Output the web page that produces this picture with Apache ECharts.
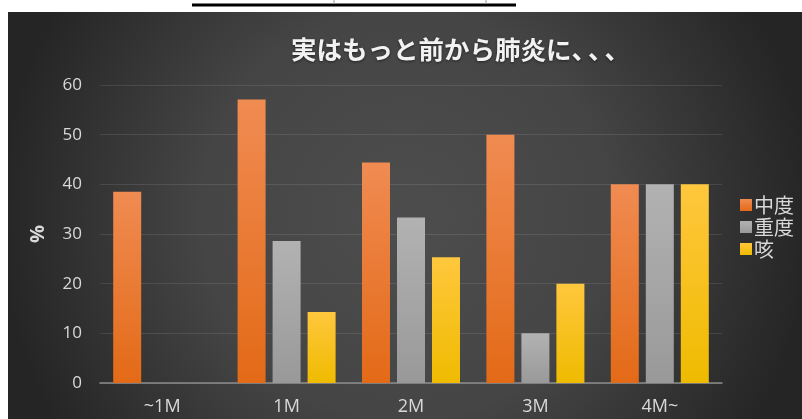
<!DOCTYPE html>
<html>
<head>
<meta charset="utf-8">
<script src="https://cdn.jsdelivr.net/npm/echarts@6/dist/echarts.min.js"></script>
<style>
html,body{margin:0;padding:0;background:#fff;}
#c{width:802px;height:419px;}
</style>
</head>
<body>
<div id="c"></div>
<script>
var categories = ['~1M', '1M', '2M', '3M', '4M~'];
var seriesNames = ['中度', '重度', '咳'];
var moderate = [38.5, 57.1, 44.4, 50, 40];
var severe = [0, 28.6, 33.3, 10, 40];
var cough = [0, 14.3, 25.3, 20, 40];
var yTicks = { min: 0, max: 60, interval: 10 };
var titleMain = '実はもっと前から肺炎に';
var titleTail = ['、', '、', '、'];

var FONT = "'Noto Sans CJK JP', 'Noto Sans', sans-serif";
var NUMFONT = "'Open Sans', 'Noto Sans', sans-serif";
function grad(top, bottom) {
  return new echarts.graphic.LinearGradient(0, 0, 0, 1, [
    { offset: 0, color: top }, { offset: 1, color: bottom }
  ]);
}
var titleStyleBase = {
  color: '#f2f2f2', fontSize: 25.5, fontWeight: 'bold', fontFamily: FONT,
  textShadowColor: 'rgba(0,0,0,0.5)', textShadowBlur: 3, textShadowOffsetY: 1
};
var titleText = titleMain + titleTail.map(function (c) { return '{p|' + c + '}'; }).join('');
var chart = echarts.init(document.getElementById('c'));
chart.setOption({
  animation: false,
  textStyle: { fontFamily: FONT },
  graphic: [
    {
      type: 'rect', z: -10, silent: true,
      shape: { x: 8, y: 12, width: 794, height: 407 },
      style: {
        fill: new echarts.graphic.RadialGradient(0.5, 0.5, 1.0, [
          { offset: 0, color: '#4d4d4d' },
          { offset: 0.5, color: '#454545' },
          { offset: 1, color: '#252525' }
        ])
      }
    },
    {
      type: 'line', z: 10, silent: true,
      shape: { x1: 192, y1: 5, x2: 516, y2: 5 },
      style: { stroke: '#000', lineWidth: 3 }
    },
    {
      type: 'line', z: 10, silent: true,
      shape: { x1: 334, y1: 0, x2: 334, y2: 4 },
      style: { stroke: '#999', lineWidth: 1 }
    },
    {
      type: 'line', z: 10, silent: true,
      shape: { x1: 486, y1: 0, x2: 486, y2: 4 },
      style: { stroke: '#999', lineWidth: 1 }
    }
  ],
  title: {
    text: titleText,
    left: 286, top: 32,
    textStyle: Object.assign({}, titleStyleBase, {
      rich: { p: Object.assign({}, titleStyleBase, { width: 16.5 }) }
    })
  },
  legend: {
    orient: 'vertical',
    left: 740, top: 195,
    itemWidth: 12, itemHeight: 12, itemGap: 2,
    icon: 'rect',
    padding: 0,
    textStyle: { color: '#d9d9d9', fontSize: 20, padding: [0, 0, 0, -3] },
    data: seriesNames
  },
  grid: { left: 100, right: 80, top: 85, bottom: 36 },
  xAxis: {
    type: 'category',
    data: categories,
    axisLine: { lineStyle: { color: '#8c8c8c', width: 1.5 } },
    axisTick: { show: false },
    axisLabel: { color: '#d9d9d9', fontSize: 18, margin: 15, fontFamily: NUMFONT }
  },
  yAxis: {
    type: 'value',
    min: yTicks.min, max: yTicks.max, interval: yTicks.interval,
    name: '%',
    nameLocation: 'middle',
    nameRotate: 90,
    nameGap: 52,
    nameTextStyle: { color: '#d9d9d9', fontSize: 20, fontWeight: 'bold', fontFamily: NUMFONT },
    axisLine: { show: false },
    axisTick: { show: false },
    axisLabel: { color: '#d9d9d9', fontSize: 17, margin: 18, fontFamily: NUMFONT },
    splitLine: { lineStyle: { color: 'rgba(255,255,255,0.1)', width: 1 } }
  },
  series: [
    {
      name: seriesNames[0], type: 'bar', data: moderate,
      barWidth: 28, barGap: '25%',
      itemStyle: { color: grad('#f08b52', '#e36a17') }
    },
    {
      name: seriesNames[1], type: 'bar', data: severe,
      barWidth: 28, barGap: '25%',
      itemStyle: { color: grad('#b2b2b2', '#999999') }
    },
    {
      name: seriesNames[2], type: 'bar', data: cough,
      barWidth: 28, barGap: '25%',
      itemStyle: { color: grad('#ffc73d', '#efbb00') }
    }
  ]
});
</script>
</body>
</html>
